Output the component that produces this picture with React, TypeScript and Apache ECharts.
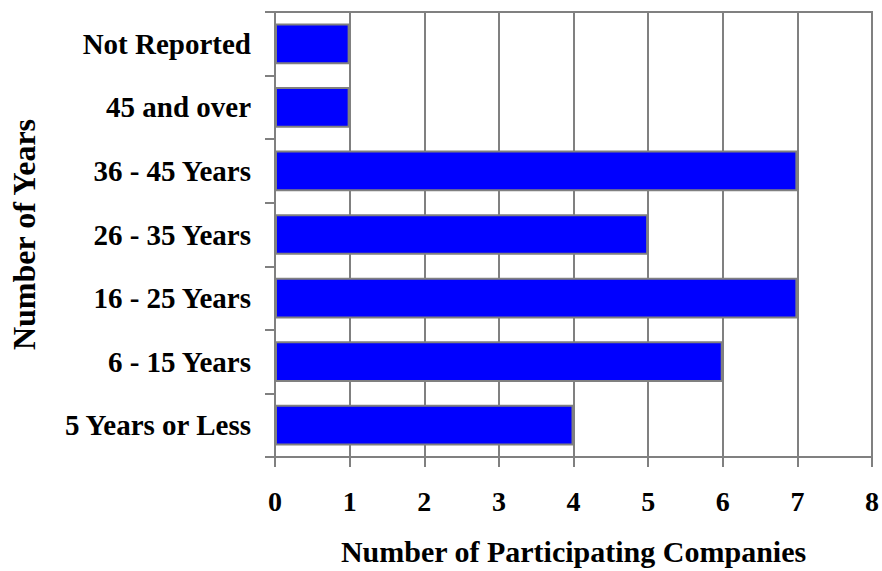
import React, { useEffect, useRef } from "react";
import * as echarts from "echarts";

const categories = [
  "5 Years or Less",
  "6 - 15 Years",
  "16 - 25 Years",
  "26 - 35 Years",
  "36 - 45 Years",
  "45 and over",
  "Not Reported",
];
const companies = [4, 6, 7, 5, 7, 1, 1];
const xMin = 0;
const xMax = 8;
const xInterval = 1;

const FONT = '"Liberation Serif", "Times New Roman", serif';
const GRAY = "#808080";

export default function App() {
  const ref = useRef<HTMLDivElement>(null);
  useEffect(() => {
    if (!ref.current) return;
    const chart = echarts.init(ref.current, undefined, { renderer: "svg" });
    chart.setOption({
      animation: false,
      backgroundColor: "#ffffff",
      grid: {
        left: 275,
        right: 6,
        top: 12,
        bottom: 108,
        show: true,
        borderColor: GRAY,
        borderWidth: 2,
        backgroundColor: "transparent",
      },
      xAxis: {
        type: "value",
        min: xMin,
        max: xMax,
        interval: xInterval,
        name: "Number of Participating Companies",
        nameLocation: "middle",
        nameGap: 79,
        nameTextStyle: { fontFamily: FONT, fontWeight: "bold", fontSize: 30, color: "#000" },
        axisLine: { show: true, lineStyle: { color: GRAY, width: 2 } },
        axisTick: { show: true, length: 10, inside: false, lineStyle: { color: GRAY, width: 2 } },
        axisLabel: { margin: 30, fontFamily: FONT, fontWeight: "bold", fontSize: 28, color: "#000" },
        splitLine: { show: true, lineStyle: { color: GRAY, width: 2 } },
      },
      yAxis: {
        type: "category",
        data: categories,
        name: "Number of Years",
        nameLocation: "middle",
        nameGap: 235,
        nameTextStyle: { fontFamily: FONT, fontWeight: "bold", fontSize: 32, color: "#000" },
        axisLine: { show: true, lineStyle: { color: GRAY, width: 2 } },
        axisTick: { show: true, length: 10, inside: false, lineStyle: { color: GRAY, width: 2 } },
        axisLabel: { margin: 24, fontFamily: FONT, fontWeight: "bold", fontSize: 29, color: "#000" },
        splitLine: { show: false },
      },
      series: [
        {
          type: "bar",
          data: companies,
          barCategoryGap: "36%",
          itemStyle: { color: "#0000FF", borderColor: GRAY, borderWidth: 2 },
        },
      ],
    });
    return () => chart.dispose();
  }, []);
  return (
    <div
      ref={ref}
      style={{ position: "fixed", left: 0, top: 0, width: 882, height: 571 }}
    />
  );
}
